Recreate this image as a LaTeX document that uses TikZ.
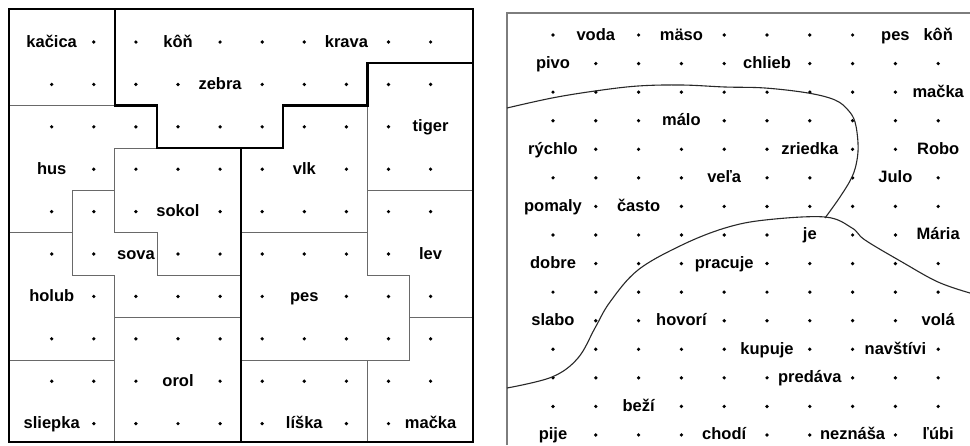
\documentclass[tikz,border=0pt]{standalone}
\usepackage{fontspec}
\setmainfont{Liberation Sans}
\usetikzlibrary{positioning}
\definecolor{gridLine}{RGB}{105,105,105}
\definecolor{frameGray}{RGB}{125,125,125}
\definecolor{curveColor}{RGB}{40,40,40}
\newcommand*{\gapmark}{.}

\begin{document}
\begin{tikzpicture}[
    x=1pt, y=-1pt,
    every node/.style={font=\fontsize{16.5}{18}\selectfont\bfseries},
    word/.style={inner sep=0pt, text height=12pt, text depth=2pt, anchor=center},
    dotmark/.style={circle, fill=black, inner sep=0pt, minimum size=3.7pt},
    region/.style={draw=gridLine, line width=0.8pt},
    split/.style={draw=black, line width=2.4pt},
    curve/.style={draw=curveColor, line width=1.1pt},
    frame/.style={draw=frameGray, line width=1.4pt}
]
    \useasboundingbox (0,0) rectangle (970,445);
    \fill[white] (0,0) rectangle (970,445);

    % left map: cells of 42.1 x 42.4
    \begin{scope}[shift={(51.7,42)}, x=42.1pt, y=-42.4pt]
        \draw[region] (-1.01,1.5) -- (1.5,1.5);
        \draw[region] (2.5,2.5) -- (1.5,2.5) -- (1.5,4.5) -- (2.5,4.5) -- (2.5,5.5) -- (4.5,5.5);
        \draw[region] (1.5,3.5) -- (0.5,3.5) -- (0.5,5.5) -- (1.5,5.5) -- (1.5,9.43);
        \draw[region] (-1.01,4.5) -- (0.5,4.5);
        \draw[region] (-1.01,7.5) -- (1.5,7.5);
        \draw[region] (1.5,6.5) -- (4.5,6.5);
        \draw[region] (7.5,1.5) -- (7.5,5.5) -- (8.5,5.5) -- (8.5,7.5) -- (4.5,7.5);
        \draw[region] (7.5,3.5) -- (10.01,3.5);
        \draw[region] (4.5,4.5) -- (7.5,4.5);
        \draw[region] (8.5,6.5) -- (10.01,6.5);
        \draw[region] (7.5,7.5) -- (7.5,9.43);

        \draw[split] (1.5,-0.78) -- (1.5,1.5) -- (2.5,1.5) -- (2.5,2.5) -- (5.5,2.5)
            -- (5.5,1.5) -- (7.5,1.5) -- (7.5,0.5) -- (10.01,0.5);
        \draw[split] (4.5,2.5) -- (4.5,9.43);
        \draw[split] (-1.01,-0.78) rectangle (10.01,9.43);

        \foreach \r/\row in {
            0/{kačica,.,.,kôň,.,.,.,krava,.,.},
            1/{.,.,.,.,zebra,.,.,.,.,.},
            2/{.,.,.,.,.,.,.,.,.,tiger},
            3/{hus,.,.,.,.,.,vlk,.,.,.},
            4/{.,.,.,sokol,.,.,.,.,.,.},
            5/{.,.,sova,.,.,.,.,.,.,lev},
            6/{holub,.,.,.,.,.,pes,.,.,.},
            7/{.,.,.,.,.,.,.,.,.,.},
            8/{.,.,.,orol,.,.,.,.,.,.},
            9/{sliepka,.,.,.,.,.,líška,.,.,mačka}} {
            \foreach \w [count=\c from 0] in \row {
                \ifx\w\gapmark
                    \node[dotmark] (dl-\c-\r) at (\c,\r) {};
                \else
                    \node[word] (wl-\c-\r) at (\c,\r) {\w};
                \fi
            }
        }
    \end{scope}

    % right map
    \draw[frame] (507,445) -- (507,13) -- (970,13);
    \begin{scope}[shift={(553,35)}, x=42.8pt, y=-28.57pt]
        \foreach \r/\row in {
            0/{.,voda,.,mäso,.,.,.,.,pes,kôň},
            1/{pivo,.,.,.,.,chlieb,.,.,.,.},
            2/{.,.,.,.,.,.,.,.,.,mačka},
            3/{.,.,.,málo,.,.,.,.,.,.},
            4/{rýchlo,.,.,.,.,.,zriedka,.,.,Robo},
            5/{.,.,.,.,veľa,.,.,.,Julo,.},
            6/{pomaly,.,často,.,.,.,.,.,.,.},
            7/{.,.,.,.,.,.,je,.,.,Mária},
            8/{dobre,.,.,.,pracuje,.,.,.,.,.},
            9/{.,.,.,.,.,.,.,.,.,.},
            10/{slabo,.,.,hovorí,.,.,.,.,.,volá},
            11/{.,.,.,.,.,kupuje,.,.,navštívi,.},
            12/{.,.,.,.,.,.,predáva,.,.,.},
            13/{.,.,beží,.,.,.,.,.,.,.},
            14/{pije,.,.,.,chodí,.,.,neznáša,.,ľúbi}} {
            \foreach \w [count=\c from 0] in \row {
                \ifx\w\gapmark
                    \node[dotmark] (dr-\c-\r) at (\c,\r) {};
                \else
                    \node[word] (wr-\c-\r) at (\c,\r) {\w};
                \fi
            }
        }
    \end{scope}

    \draw[curve] plot[smooth, tension=0.6] coordinates {
        (507,108) (552,98) (595,91) (638,86) (682,85) (725,87) (765,88) (808,93)
        (835,100) (848,110) (855,122) (858,143) (857,160) (852,177) (840,197) (825,218)};
    \draw[curve] plot[smooth, tension=0.6] coordinates {
        (507,388) (552,377) (578,358) (595,328) (610,302) (638,270) (682,245) (725,228)
        (765,220) (825,217) (852,228) (865,240) (902,262) (938,282) (970,293)};
\end{tikzpicture}
\end{document}
